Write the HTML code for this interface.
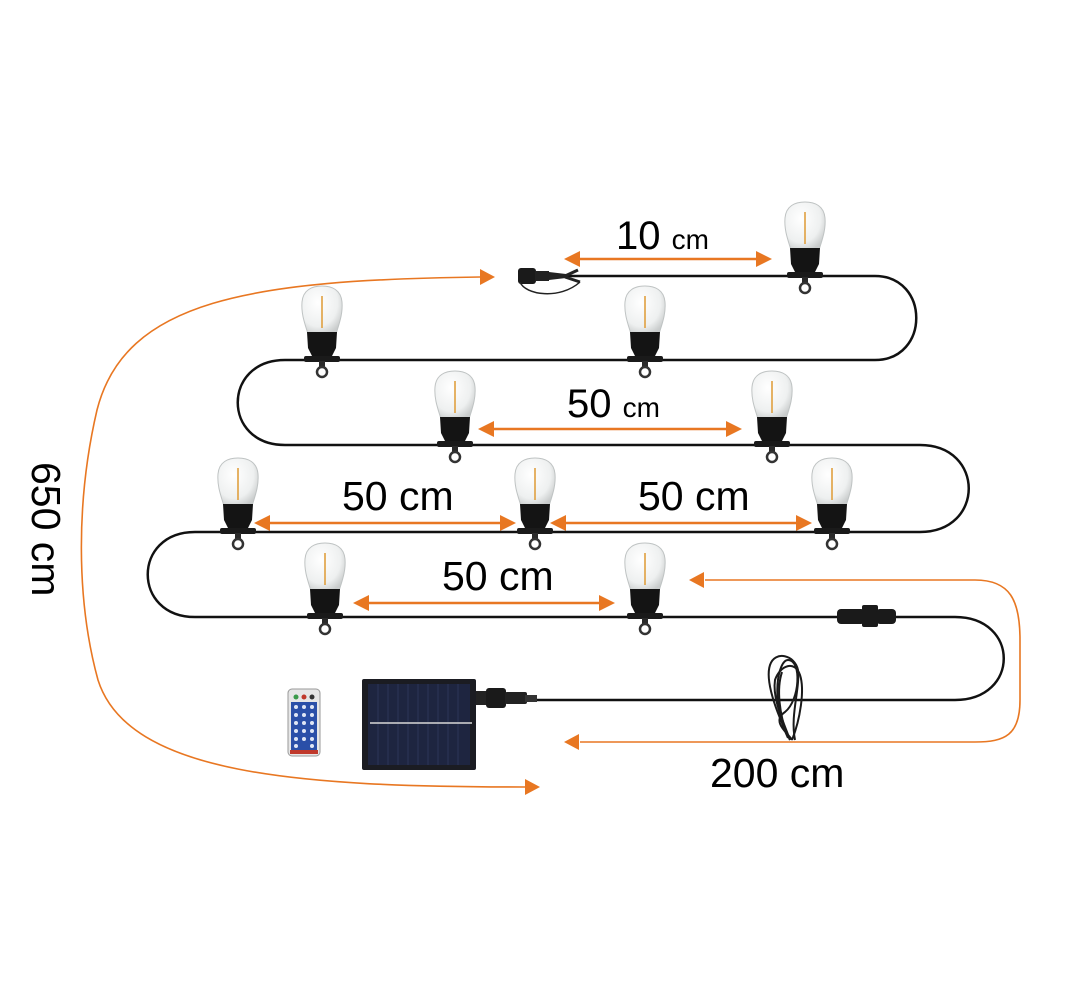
<!DOCTYPE html>
<html><head><meta charset="utf-8"><style>
html,body{margin:0;padding:0;background:#fff;}
svg{display:block;}
text{font-family:"Liberation Sans","DejaVu Sans",sans-serif;fill:#000;}
</style></head><body>
<svg width="1080" height="999" viewBox="0 0 1080 999" xmlns="http://www.w3.org/2000/svg">
<defs>
  <radialGradient id="gl" cx="0.4" cy="0.35" r="0.7">
    <stop offset="0" stop-color="#ffffff"/>
    <stop offset="0.7" stop-color="#eef0f0"/>
    <stop offset="1" stop-color="#c9cccc"/>
  </radialGradient>
  <g id="bulb">
    <path d="M-14,-26 C-17,-36 -21,-46 -20,-58 C-19,-70 -10,-74 0,-74 C10,-74 19,-70 20,-58 C21,-46 17,-36 14,-26 Z" fill="url(#gl)" stroke="#bfc3c3" stroke-width="1"/>
    <line x1="0" y1="-64" x2="0" y2="-32" stroke="#e0a040" stroke-width="1.6"/>
    <path d="M-15,-28 L15,-28 L14,-12 L10,-4 L-10,-4 L-14,-12 Z" fill="#141414"/>
    <rect x="-18" y="-4" width="36" height="6" rx="2" fill="#1a1a1a"/>
    <rect x="-3" y="1" width="6" height="6" fill="#2a2a2a"/>
    <circle cx="0" cy="12" r="5" fill="none" stroke="#333" stroke-width="2.5"/>
  </g>
</defs>

<!-- orange curves -->
<g fill="none" stroke="#e87722" stroke-width="1.6">
  <path d="M480,277 C250,280 125,300 97,410 C76,500 76,600 98,680 C128,775 300,787 525,787"/>
  <path d="M705,580 L975,580 C1010,580 1020,600 1020,640 L1020,700 C1020,735 1005,742 975,742 L580,742"/>
</g>
<g fill="#e87722">
  <polygon points="495,277 480,269 480,285"/>
  <polygon points="540,787 525,779 525,795"/>
  <polygon points="689,580 704,572 704,588"/>
  <polygon points="564,742 579,734 579,750"/>
</g>

<!-- dimension arrows -->
<g stroke="#e87722" stroke-width="2.5">
  <line x1="578" y1="259" x2="758" y2="259"/>
  <line x1="492" y1="429" x2="728" y2="429"/>
  <line x1="268" y1="523" x2="502" y2="523"/>
  <line x1="564" y1="523" x2="798" y2="523"/>
  <line x1="367" y1="603" x2="601" y2="603"/>
</g>
<g fill="#e87722">
  <polygon points="564,259 580,251 580,267"/><polygon points="772,259 756,251 756,267"/>
  <polygon points="478,429 494,421 494,437"/><polygon points="742,429 726,421 726,437"/>
  <polygon points="254,523 270,515 270,531"/><polygon points="516,523 500,515 500,531"/>
  <polygon points="550,523 566,515 566,531"/><polygon points="812,523 796,515 796,531"/>
  <polygon points="353,603 369,595 369,611"/><polygon points="615,603 599,595 599,611"/>
</g>

<!-- main wire -->
<path d="M540,276 L875,276 C930,276 930,360 875,360 L285,360 C222,360 222,445 285,445 L920,445 C985,445 985,532 920,532 L195,532 C132,532 132,617 195,617 L955,617 C1020,617 1020,700 955,700 L535,700" fill="none" stroke="#111" stroke-width="2.5"/>

<!-- start connector -->
<g>
  <rect x="518" y="268" width="18" height="16" rx="3" fill="#1a1a1a"/>
  <rect x="535" y="271" width="14" height="10" fill="#222"/>
  <path d="M549,272 L566,274 L566,278 L549,280 Z" fill="#222"/>
  <path d="M565,276 L578,270 M565,277 L580,282" stroke="#222" stroke-width="3"/>
  <path d="M520,282 C525,295 560,300 580,282" fill="none" stroke="#222" stroke-width="1.5"/>
</g>

<!-- inline connector row5 -->
<g fill="#1a1a1a">
  <rect x="837" y="609" width="28" height="15" rx="4"/>
  <rect x="862" y="605" width="16" height="22" rx="2"/>
  <rect x="876" y="609" width="20" height="15" rx="4"/>
</g>

<!-- coiled cable -->
<g fill="none" stroke="#1a1a1a" stroke-width="2">
  <path d="M790,740 C775,710 765,680 770,665 C775,650 795,655 798,670 C800,690 790,715 795,740"/>
  <path d="M788,738 C770,700 778,660 788,660 C802,660 800,700 785,712 C770,722 790,735 792,740"/>
  <path d="M792,740 C800,720 805,690 800,675 C795,660 780,665 775,680 C772,700 785,725 790,740"/>
  <path d="M787,735 C780,715 776,690 782,672"/>
</g>

<!-- bulbs -->
<use href="#bulb" x="805" y="276"/>
<use href="#bulb" x="322" y="360"/>
<use href="#bulb" x="645" y="360"/>
<use href="#bulb" x="455" y="445"/>
<use href="#bulb" x="772" y="445"/>
<use href="#bulb" x="238" y="532"/>
<use href="#bulb" x="535" y="532"/>
<use href="#bulb" x="832" y="532"/>
<use href="#bulb" x="325" y="617"/>
<use href="#bulb" x="645" y="617"/>

<!-- solar panel -->
<rect x="362" y="679" width="114" height="91" rx="2" fill="#1b1c22"/>
<rect x="368" y="684" width="102" height="81" fill="#1e2540"/>
<g stroke="#2c3558" stroke-width="1">
  <line x1="378" y1="684" x2="378" y2="765"/><line x1="388" y1="684" x2="388" y2="765"/>
  <line x1="398" y1="684" x2="398" y2="765"/><line x1="408" y1="684" x2="408" y2="765"/>
  <line x1="418" y1="684" x2="418" y2="765"/><line x1="428" y1="684" x2="428" y2="765"/>
  <line x1="438" y1="684" x2="438" y2="765"/><line x1="448" y1="684" x2="448" y2="765"/>
  <line x1="458" y1="684" x2="458" y2="765"/>
</g>
<line x1="370" y1="723" x2="472" y2="723" stroke="#d8d8d8" stroke-width="1.5"/>
<!-- solar connector -->
<rect x="476" y="691" width="12" height="14" fill="#222"/>
<rect x="486" y="688" width="20" height="20" rx="3" fill="#1a1a1a"/>
<rect x="505" y="692" width="22" height="12" rx="2" fill="#222"/>
<rect x="525" y="695" width="12" height="7" fill="#333"/>

<!-- remote -->
<rect x="288" y="689" width="32" height="67" rx="4" fill="#e6e6e6" stroke="#999"/>
<rect x="291" y="702" width="26" height="48" fill="#2a4fa8"/>
<circle cx="296" cy="697" r="2.5" fill="#3a9a4a"/><circle cx="304" cy="697" r="2.5" fill="#c0392b"/><circle cx="312" cy="697" r="2.5" fill="#333"/>
<g fill="#dfe6f5">
  <circle cx="296" cy="707" r="2"/><circle cx="304" cy="707" r="2"/><circle cx="312" cy="707" r="2"/>
  <circle cx="296" cy="715" r="2"/><circle cx="304" cy="715" r="2"/><circle cx="312" cy="715" r="2"/>
  <circle cx="296" cy="723" r="2"/><circle cx="304" cy="723" r="2"/><circle cx="312" cy="723" r="2"/>
  <circle cx="296" cy="731" r="2"/><circle cx="304" cy="731" r="2"/><circle cx="312" cy="731" r="2"/>
  <circle cx="296" cy="739" r="2"/><circle cx="304" cy="739" r="2"/><circle cx="312" cy="739" r="2"/>
  <circle cx="296" cy="746" r="2"/><circle cx="312" cy="746" r="2"/>
</g>
<rect x="290" y="750" width="28" height="4" fill="#c0392b"/>

<!-- labels -->
<text x="616" y="249" font-size="40">10 <tspan font-size="28">cm</tspan></text>
<text x="567" y="417" font-size="40">50 <tspan font-size="28">cm</tspan></text>
<text x="342" y="510" font-size="41">50 cm</text>
<text x="638" y="510" font-size="41">50 cm</text>
<text x="442" y="590" font-size="41">50 cm</text>
<text x="710" y="787" font-size="41">200 cm</text>
<text x="0" y="0" font-size="41" transform="translate(32,462) rotate(90)">650 cm</text>
</svg>
</body></html>
